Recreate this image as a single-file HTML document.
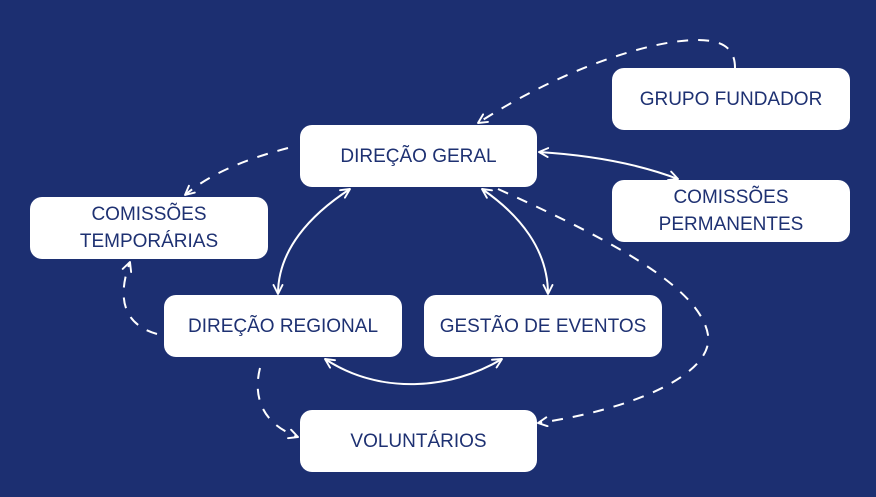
<!DOCTYPE html>
<html><head><meta charset="utf-8">
<style>
html,body{margin:0;padding:0;}
body{width:876px;height:497px;background:#1c2f71;position:relative;overflow:hidden;font-family:"Liberation Sans",sans-serif;}
.b{position:absolute;background:#fff;border-radius:12px;display:flex;align-items:center;justify-content:center;text-align:center;color:#1e3172;font-size:19px;line-height:27px;}
svg{position:absolute;left:0;top:0;}
</style></head><body>
<svg width="876" height="497" viewBox="0 0 876 497">
<defs>
<marker id="a" viewBox="0 0 11 11" refX="10" refY="5.5" markerWidth="11" markerHeight="11" markerUnits="userSpaceOnUse" orient="auto-start-reverse">
<path d="M1,1 L10,5.5 L1,10" fill="none" stroke="#fff" stroke-width="1.9" stroke-linecap="round" stroke-linejoin="round"/>
</marker>
</defs>
<g fill="none" stroke="#fff" stroke-width="2">
<g stroke-dasharray="11 10">
<path d="M735,68 C735,50 725,40 697,40 C650,40 560,70 478,123" marker-end="url(#a)"/>
<path d="M288,148 C250,158 212,172 185,195" marker-end="url(#a)"/>
<path d="M157,334 C125,325 116,300 130,262" marker-end="url(#a)"/>
<path d="M260,368 C252,400 265,425 298,437" marker-end="url(#a)"/>
<path d="M498,189 C600,235 700,285 708,335 C714,375 630,410 538,423" marker-end="url(#a)"/>
</g>
<path d="M539,152 Q620,157 678,179" marker-start="url(#a)" marker-end="url(#a)"/>
<path d="M350,189 C310,215 278,250 278,294" marker-start="url(#a)" marker-end="url(#a)"/>
<path d="M482,189 C520,215 548,250 548,294" marker-start="url(#a)" marker-end="url(#a)"/>
<path d="M325,359 C380,395 450,390 502,359" marker-start="url(#a)" marker-end="url(#a)"/>
</g>
</svg>
<div class="b" style="left:612px;top:68px;width:238px;height:62px;">GRUPO FUNDADOR</div>
<div class="b" style="left:300px;top:125px;width:237px;height:62px;">DIREÇÃO GERAL</div>
<div class="b" style="left:612px;top:180px;width:238px;height:62px;">COMISSÕES<br>PERMANENTES</div>
<div class="b" style="left:30px;top:197px;width:238px;height:62px;">COMISSÕES<br>TEMPORÁRIAS</div>
<div class="b" style="left:164px;top:295px;width:238px;height:62px;">DIREÇÃO REGIONAL</div>
<div class="b" style="left:424px;top:295px;width:238px;height:62px;">GESTÃO DE EVENTOS</div>
<div class="b" style="left:300px;top:410px;width:237px;height:62px;">VOLUNTÁRIOS</div>
</body></html>
